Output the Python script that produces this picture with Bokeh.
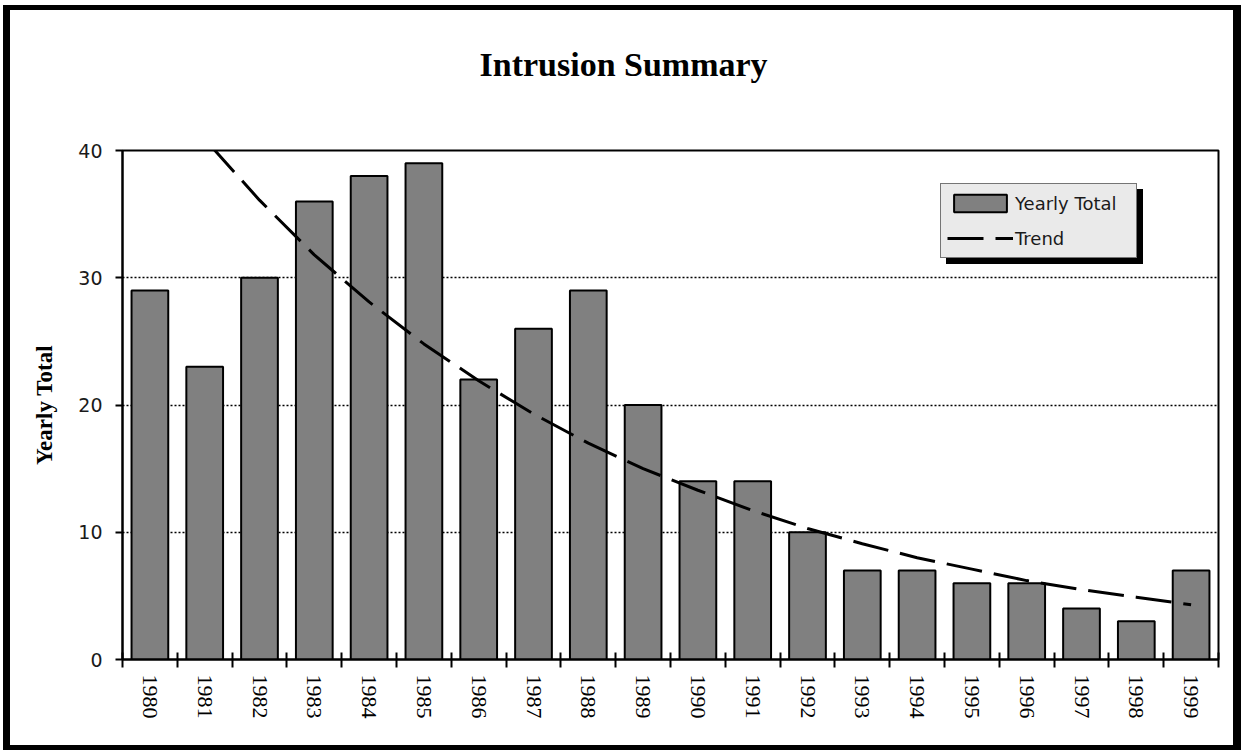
from bokeh.plotting import figure
from bokeh.models import Range1d, FixedTicker, Legend, LegendItem, Title
from bokeh.embed import file_html
from bokeh.resources import INLINE

years = ["1980", "1981", "1982", "1983", "1984", "1985", "1986", "1987", "1988", "1989",
         "1990", "1991", "1992", "1993", "1994", "1995", "1996", "1997", "1998", "1999"]
yearly_total = [29, 23, 30, 36, 38, 39, 22, 26, 29, 20, 14, 14, 10, 7, 7, 6, 6, 4, 3, 7]
trend = [46.3, 40.9, 36.1, 31.8, 28.1, 24.8, 21.9, 19.3, 17.0, 15.0,
         13.3, 11.7, 10.3, 9.1, 8.0, 7.1, 6.2, 5.5, 4.9, 4.3]
y_ticks = [0, 10, 20, 30, 40]

n = len(years)
pos = [i + 0.5 for i in range(n)]
bounds = list(range(n + 1))

p = figure(width=1238, height=745, x_range=Range1d(0, n), y_range=Range1d(0, 40),
           output_backend="svg", toolbar_location=None, title=None,
           min_border_left=112, min_border_right=30, min_border_top=140, min_border_bottom=96)
p.styles = {"border-style": "solid", "border-color": "black",
            "border-width": "5px 8px 5px 7px", "box-sizing": "border-box",
            "margin-left": "3px", "margin-top": "5px", "overflow": "hidden"}

# spacer (closest to frame) then real title (outermost)
spacer = Title(text=" ", text_font_size="10px", standoff=50)
p.add_layout(spacer, "above")
main_title = Title(text="Intrusion Summary", align="left", offset=357, standoff=10,
                   text_font="Liberation Serif", text_font_style="bold",
                   text_font_size="34px", text_color="black")
p.add_layout(main_title, "above")

p.outline_line_color = "black"
p.outline_line_width = 2
p.outline_line_alpha = 1
p.background_fill_color = "white"
p.border_fill_color = "white"

p.xgrid.visible = False
p.ygrid.ticker = FixedTicker(ticks=y_ticks)
p.ygrid.grid_line_color = "black"
p.ygrid.grid_line_dash = "2 2"
p.ygrid.grid_line_width = 1.5

ya = p.yaxis[0]
ya.ticker = FixedTicker(ticks=y_ticks)
ya.axis_line_width = 2
ya.axis_line_color = "black"
ya.major_tick_in = 0
ya.major_tick_out = 7
ya.major_tick_line_width = 2
ya.major_tick_line_color = "black"
ya.minor_tick_line_color = None
ya.major_label_text_font = "DejaVu Sans"
ya.major_label_text_font_size = "19px"
ya.major_label_text_color = "#1a1a1a"
ya.major_label_standoff = 13
ya.axis_label = "Yearly Total"
ya.axis_label_text_font = "Liberation Serif"
ya.axis_label_text_font_style = "bold"
ya.axis_label_text_font_size = "23px"
ya.axis_label_text_color = "black"
ya.axis_label_standoff = 18

xa = p.xaxis[0]
xa.ticker = FixedTicker(ticks=pos, minor_ticks=bounds)
xa.major_label_overrides = {pos[i]: years[i] for i in range(n)}
xa.axis_line_width = 2
xa.axis_line_color = "black"
xa.major_tick_in = 0
xa.major_tick_out = 0
xa.minor_tick_in = 7
xa.minor_tick_out = 8
xa.minor_tick_line_width = 2
xa.minor_tick_line_color = "black"
xa.major_label_orientation = "vertical"
xa.major_label_text_font = "Liberation Serif"
xa.major_label_text_font_size = "22px"
xa.major_label_text_color = "black"
xa.major_label_standoff = 7

bars = p.vbar(x=pos, top=yearly_total, width=0.67, fill_color="#808080",
              line_color="black", line_width=2)
tr = p.line(x=pos, y=trend, line_color="black", line_width=3, line_dash="36 12")


def make_legend(loc, bg, labels):
    lg = Legend(items=[LegendItem(label=labels[0], renderers=[bars]),
                       LegendItem(label=labels[1], renderers=[tr])],
                location=loc)
    lg.background_fill_color = bg
    lg.background_fill_alpha = 1
    lg.border_line_color = "black"
    lg.border_line_width = 1.5
    lg.label_text_font = "DejaVu Sans"
    lg.label_text_font_size = "18px"
    lg.label_text_color = "#1a1a1a"
    lg.glyph_width = 66
    lg.glyph_height = 22
    lg.label_height = 26
    lg.label_width = 115
    lg.label_standoff = 2
    lg.padding = 6
    lg.spacing = 9
    lg.margin = 0
    return lg


p.add_layout(make_legend((824, 395), "black", [" ", " "]), "center")
p.add_layout(make_legend((818, 401), "#eaeaea", ["Yearly Total", "Trend"]), "center")

open("out.html", "w").write(file_html(p, INLINE))
